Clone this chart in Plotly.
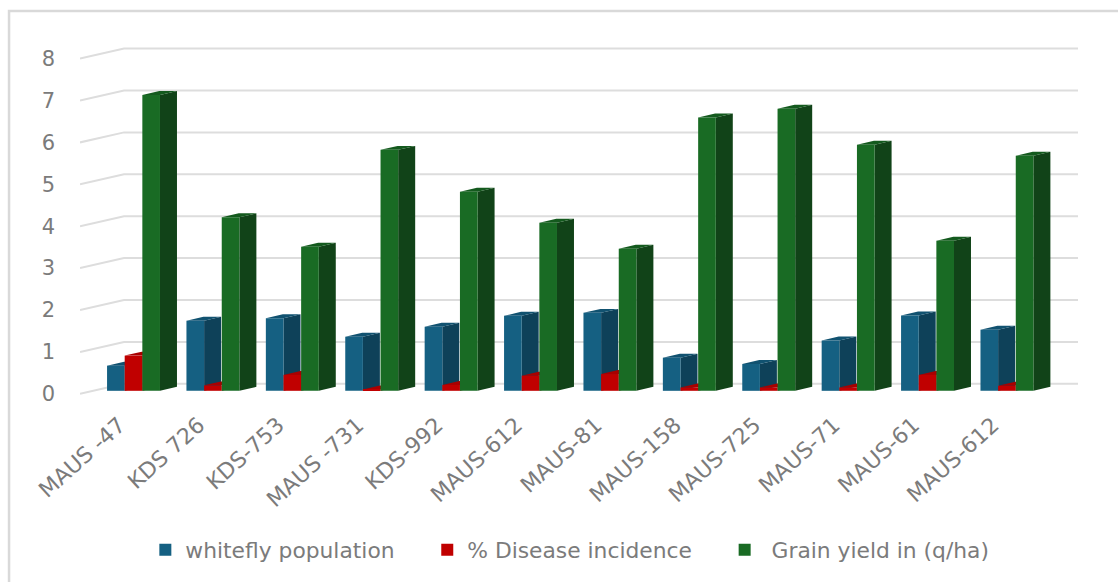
import plotly.graph_objects as go

categories = ["MAUS -47", "KDS 726", "KDS-753", "MAUS -731", "KDS-992", "MAUS-612",
              "MAUS-81", "MAUS-158", "MAUS-725", "MAUS-71", "MAUS-61", "MAUS-612"]
whitefly = [0.60, 1.67, 1.73, 1.29, 1.53, 1.79, 1.86, 0.79, 0.64, 1.20, 1.80, 1.46]
disease = [0.84, 0.13, 0.38, 0.03, 0.14, 0.36, 0.40, 0.08, 0.08, 0.08, 0.38, 0.12]
grain = [7.06, 4.14, 3.44, 5.75, 4.75, 4.01, 3.39, 6.52, 6.73, 5.87, 3.58, 5.61]
y_ticks = [0, 1, 2, 3, 4, 5, 6, 7, 8]

NB = "\u00a0"
series = [
    ("whitefly population" + NB * 4, whitefly, "#156082", "#0E4159", "#115270"),
    ("% Disease incidence" + NB * 4, disease, "#C00000", "#8A0000", "#A80000"),
    (NB + "Grain yield in (q/ha)", grain, "#196B24", "#114318", "#145A1E"),
]

BAR_W = 2 / 9          # one bar's share of a category slot
DEPTH_X = 0.214        # bar depth, in x units
DEPTH_Y = 0.095        # bar depth, in y units
GRID_DX = 0.554
GRID_FRONT = -0.072
GRID_BACK = 0.167
X_RANGE = [-0.674, 11.895]
Y_RANGE = [-0.1, 8.3]


def polygon(points, color):
    path = "M " + " L ".join(f"{x},{y}" for x, y in points) + " Z"
    return dict(type="path", path=path, xref="x", yref="y", layer="below",
                fillcolor=color, line=dict(width=0))


shapes = []
for v in y_ticks:
    path = (f"M {X_RANGE[0]},{v + GRID_FRONT} L {X_RANGE[0] + GRID_DX},{v + GRID_BACK} "
            f"L {X_RANGE[1]},{v + GRID_BACK}")
    shapes.append(dict(type="path", path=path, xref="x", yref="y", layer="below",
                       line=dict(color="#DDDDDD", width=2)))

for i in range(len(categories)):
    for k, (_, values, _, side, top) in enumerate(series):
        left = i - 1.5 * BAR_W + k * BAR_W
        right = left + BAR_W
        v = values[i]
        shapes.append(polygon([(right, 0), (right + DEPTH_X, DEPTH_Y),
                               (right + DEPTH_X, v + DEPTH_Y), (right, v)], side))
        shapes.append(polygon([(left, v), (right, v), (right + DEPTH_X, v + DEPTH_Y),
                               (left + DEPTH_X, v + DEPTH_Y)], top))

# outer frame: left and top edges only, reaching the page edges
shapes.append(dict(type="path", path="M -0.0711,-0.54 L -0.0711,1.091 L 1.05,1.091",
                   xref="paper", yref="paper", layer="below",
                   line=dict(color="#D9D9D9", width=2.5)))

fig = go.Figure()
for name, values, front, _, _ in series:
    fig.add_bar(x=list(range(len(categories))), y=values, name=name,
                marker=dict(color=front, line=dict(width=0)))

GRAY = "#7B7B7B"
fig.update_layout(
    width=1118, height=582, autosize=False,
    margin=dict(l=80, r=40, t=43, b=187),
    paper_bgcolor="white", plot_bgcolor="rgba(0,0,0,0)",
    barmode="group", bargap=1 / 3, bargroupgap=0,
    font=dict(family="DejaVu Sans", color=GRAY, size=20),
    shapes=shapes,
    showlegend=True,
    legend=dict(orientation="h", xref="container", yref="container",
                x=0.13, xanchor="left", y=1 - 550 / 582, yanchor="middle",
                font=dict(size=21.8, color=GRAY), traceorder="normal"),
    xaxis=dict(range=X_RANGE, tickmode="array", tickvals=list(range(len(categories))),
               ticktext=categories, tickangle=-42, showgrid=False, zeroline=False,
               showline=False, ticks="", ticklabelstandoff=12, ticklabelshift=-14,
               tickfont=dict(size=22, color=GRAY)),
    yaxis=dict(range=Y_RANGE, tickmode="array", tickvals=y_ticks, showgrid=False,
               zeroline=False, showline=False, ticks="", ticklabelstandoff=24,
               ticklabelshift=3, tickfont=dict(size=21, color=GRAY)),
)

fig.write_html("out.html", config={"displayModeBar": False},
               post_script="document.body.style.margin='0';")
